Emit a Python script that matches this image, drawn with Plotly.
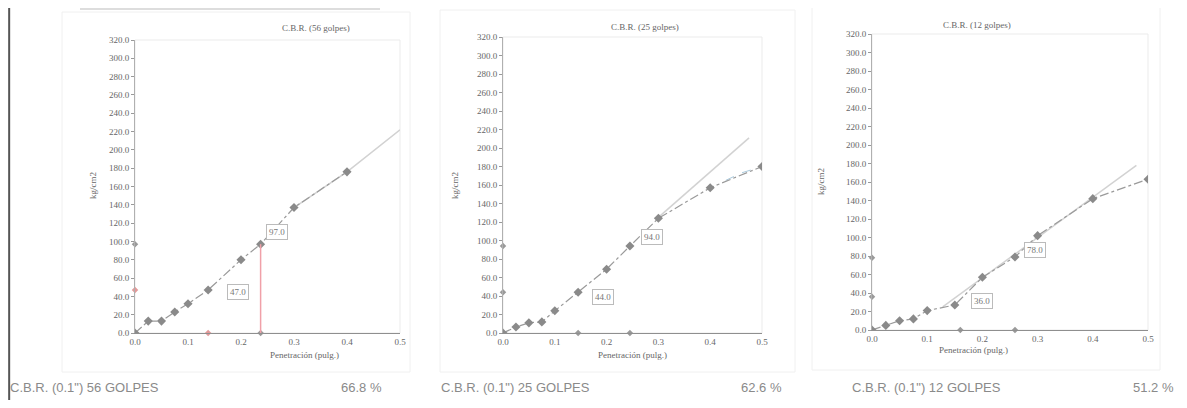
import plotly.graph_objects as go

# ---------------- data ----------------
titles = ["C.B.R. (56 golpes)", "C.B.R. (25 golpes)", "C.B.R. (12 golpes)"]
golpes = ["56", "25", "12"]
cbr_pct = ["66.8 %", "62.6 %", "51.2 %"]

x_ticks = [0.0, 0.1, 0.2, 0.3, 0.4, 0.5]
y_ticks = [0, 20, 40, 60, 80, 100, 120, 140, 160, 180, 200, 220, 240, 260, 280, 300, 320]

# panel 1 (56 golpes)
p1_x = [0.0, 0.025, 0.05, 0.075, 0.1, 0.138, 0.2, 0.237, 0.3, 0.4]
p1_y = [0.0, 13.0, 13.0, 23.0, 32.0, 47.0, 80.0, 97.0, 137.0, 176.0]
p1_trend_x = [0.3, 0.4, 0.5]
p1_trend_y = [137.0, 176.0, 222.0]
p1_corr_x = [0.138, 0.237]
p1_corr_y = [47.0, 97.0]

# panel 2 (25 golpes)
p2_x = [0.0, 0.025, 0.05, 0.075, 0.1, 0.145, 0.2, 0.245, 0.3, 0.4, 0.5]
p2_y = [0.0, 6.5, 11.0, 12.0, 24.0, 44.0, 69.0, 94.0, 124.0, 157.0, 180.0]
p2_trend_x = [0.3, 0.475]
p2_trend_y = [125.0, 211.0]
p2_fit_x = [0.43, 0.46, 0.5]
p2_fit_y = [165.0, 173.0, 180.0]
p2_corr_x = [0.145, 0.245]
p2_corr_y = [44.0, 94.0]

# panel 3 (12 golpes)
p3_x = [0.0, 0.025, 0.05, 0.075, 0.1, 0.15, 0.2, 0.259, 0.3, 0.4, 0.5]
p3_y = [0.0, 5.0, 10.0, 12.0, 21.0, 27.0, 57.0, 79.0, 102.0, 142.0, 163.0]
p3_trend_x = [0.128, 0.479]
p3_trend_y = [25.0, 178.0]
p3_corr_x = [0.16, 0.259]
p3_corr_y = [36.0, 78.0]

# ---------------- layout helpers ----------------
# the page body adds an 8px margin; figure is sized so that it fills the window exactly
OFF = 8
W, H = 1187 - 2 * OFF, 408 - 2 * OFF


def px(x):
    return (x - OFF) / W


def py(y):
    return 1 - (y - OFF) / H


panels = [
    dict(x=p1_x, y=p1_y, tx=p1_trend_x, ty=p1_trend_y, cx=p1_corr_x, cy=p1_corr_y,
         xd=[px(135), px(400)], yd=[py(333), py(40)], red=True),
    dict(x=p2_x, y=p2_y, tx=p2_trend_x, ty=p2_trend_y, cx=p2_corr_x, cy=p2_corr_y,
         xd=[px(503), px(762)], yd=[py(333), py(37)], red=False),
    dict(x=p3_x, y=p3_y, tx=p3_trend_x, ty=p3_trend_y, cx=p3_corr_x, cy=p3_corr_y,
         xd=[px(872), px(1148)], yd=[py(330), py(34)], red=False),
]

label_pos = [
    [(0.194, 45.0), (0.268, 110.0)],
    [(0.193, 39.0), (0.288, 104.0)],
    [(0.200, 31.0), (0.295, 86.0)],
]
title_px = [(280, 21), (645, 20), (1013, 18)]
ytitle_px = [(86, 186), (455, 186), (828, 182)]
xtitle_py = [362, 362, 357]
frames = [(62, 12, 410, 372), (440, 10, 795, 372), (812, 6, 1160, 370)]
bottom_left_px = [8, 439, 850]
bottom_right_px = [384, 784, 1176]

GREY = "#8a8a8a"
TXT = "#666666"
SERIF = "Liberation Serif, DejaVu Serif, serif"
SANS = "Liberation Sans, Arial, sans-serif"

fig = go.Figure()
layout = dict(
    width=W, height=H, margin=dict(l=0, r=0, t=0, b=0),
    paper_bgcolor="white", plot_bgcolor="white", showlegend=False,
)
annotations = []
shapes = []

for i, p in enumerate(panels):
    n = "" if i == 0 else str(i + 1)
    xa, ya = "x" + n, "y" + n
    layout["xaxis" + n] = dict(
        domain=p["xd"], range=[0, 0.5], tickvals=x_ticks, tickformat=".1f",
        showgrid=False, zeroline=False, showline=True, linecolor="#8f8f8f",
        ticks="", tickfont=dict(family=SERIF, size=9, color=TXT), automargin=False,
        anchor=ya,
    )
    layout["yaxis" + n] = dict(
        domain=p["yd"], range=[0, 320], tickvals=y_ticks, tickformat=".1f",
        showgrid=False, zeroline=False, showline=True, linecolor="#b0b0b0",
        ticks="outside", ticklen=3, tickcolor="#999", automargin=False,
        tickfont=dict(family=SERIF, size=9, color=TXT), anchor=xa,
    )
    # faint frame of plot area and of the chart object
    shapes.append(dict(type="rect", xref=xa + " domain", yref=ya + " domain", x0=0, x1=1, y0=0, y1=1,
                       line=dict(color="#ebebeb", width=1), layer="below"))
    fx0, fy0, fx1, fy1 = frames[i]
    shapes.append(dict(type="rect", xref="paper", yref="paper", x0=px(fx0), x1=px(fx1), y0=py(fy1), y1=py(fy0),
                       line=dict(color="#f0f0f0", width=1), layer="below"))

    # trend / correction line
    fig.add_trace(go.Scatter(x=p["tx"], y=p["ty"], mode="lines", xaxis=xa, yaxis=ya,
                             line=dict(color="#d2d2d2", width=1.5), hoverinfo="skip"))
    if i == 1:
        fig.add_trace(go.Scatter(x=p2_fit_x, y=p2_fit_y, mode="lines", xaxis=xa, yaxis=ya,
                                 line=dict(color="#a9c9dc", width=1, dash="dash"), hoverinfo="skip"))
    # measured curve
    fig.add_trace(go.Scatter(x=p["x"], y=p["y"], mode="lines+markers", xaxis=xa, yaxis=ya,
                             line=dict(color="#9a9a9a", width=1.2, dash="dashdot"),
                             marker=dict(color=GREY, size=7, symbol="diamond")))
    # axis markers for corrected values
    mk_col = ["#e39a9a", "#9a9a9a"] if p["red"] else ["#9a9a9a", "#9a9a9a"]
    fig.add_trace(go.Scatter(x=[0, 0], y=p["cy"], mode="markers", xaxis=xa, yaxis=ya, cliponaxis=False,
                             marker=dict(color=mk_col, size=5, symbol="diamond")))
    fig.add_trace(go.Scatter(x=p["cx"], y=[0, 0], mode="markers", xaxis=xa, yaxis=ya, cliponaxis=False,
                             marker=dict(color=mk_col, size=5, symbol="diamond")))
    if p["red"]:
        shapes.append(dict(type="line", xref=xa, yref=ya, x0=p["cx"][1], x1=p["cx"][1], y0=0, y1=p["cy"][1],
                           line=dict(color="#f0a0a8", width=1.5)))

    # boxed values
    for (lx, ly), val in zip(label_pos[i], p["cy"]):
        annotations.append(dict(xref=xa, yref=ya, x=lx, y=ly, text=f"{val:.1f}", showarrow=False,
                                font=dict(family=SERIF, size=9, color="#777"),
                                bordercolor="#bbb", borderwidth=1, borderpad=2, bgcolor="white"))

    # titles
    tx, ty = title_px[i]
    annotations.append(dict(xref="paper", yref="paper", x=px(tx), y=py(ty),
                            text=titles[i], showarrow=False, font=dict(family=SERIF, size=9, color=TXT)))
    yx, yy = ytitle_px[i]
    annotations.append(dict(xref="paper", yref="paper", x=px(yx), y=py(yy),
                            text="kg/cm2", textangle=-90, showarrow=False,
                            font=dict(family=SERIF, size=9, color=TXT)))
    annotations.append(dict(xref="paper", yref="paper", x=(p["xd"][0] + p["xd"][1]) / 2, y=py(xtitle_py[i]),
                            text="Penetración (pulg.)", showarrow=False,
                            font=dict(family=SERIF, size=9, color=TXT)))
    # bottom summary
    annotations.append(dict(xref="paper", yref="paper", x=px(bottom_left_px[i]), y=py(397),
                            xanchor="left", text=f"C.B.R. (0.1\") {golpes[i]} GOLPES", showarrow=False,
                            font=dict(family=SANS, size=13, color="#8a8a8a")))
    annotations.append(dict(xref="paper", yref="paper", x=px(bottom_right_px[i]), y=py(397),
                            xanchor="right", text=cbr_pct[i], showarrow=False,
                            font=dict(family=SANS, size=13, color="#8a8a8a")))

# scan border at left and faint top rules
shapes.append(dict(type="line", xref="paper", yref="paper", x0=0.001, x1=0.001, y0=0, y1=1,
                   line=dict(color="#555", width=2)))
shapes.append(dict(type="line", xref="paper", yref="paper", x0=px(80), x1=px(380),
                   y0=py(9), y1=py(9), line=dict(color="#bbb", width=1)))

layout["annotations"] = annotations
layout["shapes"] = shapes
fig.update_layout(**layout)
fig.write_html("out.html")
